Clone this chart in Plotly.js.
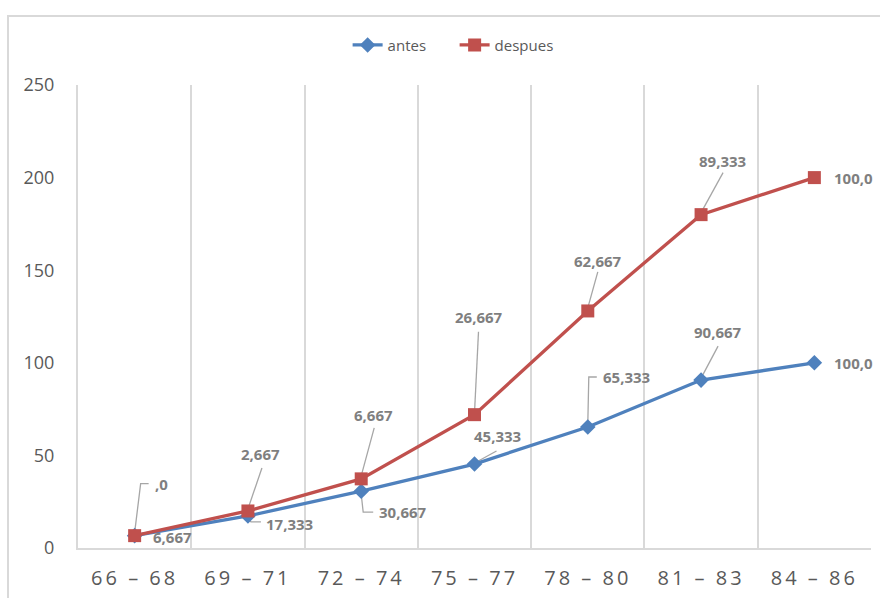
<!DOCTYPE html>
<html>
<head>
<meta charset="utf-8">
<script src="https://cdn.plot.ly/plotly-3.0.1.min.js"></script>
<style>
  html, body { margin: 0; padding: 0; background: #ffffff; overflow: hidden; }
  #frame { position: absolute; left: 7px; top: 15px; width: 900px; height: 620px;
           border: 2px solid #d9d9d9; box-sizing: border-box; }
  #chart { position: absolute; left: 0; top: 0; width: 880px; height: 598px; }
  #chart .xtick text { letter-spacing: 3px; }
</style>
</head>
<body>
<div id="frame"></div>
<div id="chart"></div>
<script>
// ---- data ----
const categories = ["66 – 68", "69 – 71", "72 – 74", "75 – 77", "78 – 80", "81 – 83", "84 – 86"];
const antes = [6.667, 17.333, 30.667, 45.333, 65.333, 90.667, 100.0];
const despues = [0.0, 2.667, 6.667, 26.667, 62.667, 89.333, 100.0];
const antesLabels = ["6,667", "17,333", "30,667", "45,333", "65,333", "90,667", "100,0"];
const despuesLabels = [",0", "2,667", "6,667", "26,667", "62,667", "89,333", "100,0"];

// stacked line chart: despues is drawn on top of antes
const despuesStacked = despues.map((v, i) => v + antes[i]);

// ---- label placement (pixels, y up) and leader lines ----
const antesOffsets = [[38, -1], [42, -8], [42, -21], [23, 28], [39, 50], [17, 48], [39, 0]];
const antesLeaders = [null, "M 0 -2 L 3 -6 L 13 -6", "M 0 -3 L 2 -21 L 12 -21", "M 2 2 L 22 13",
                      "M 0 3 L 1 50 L 9 50", "M 0 2 L 17 34", null];
const despuesOffsets = [[27, 52], [13, 57], [12, 64], [4, 98], [10, 50], [21, 54], [39, 0]];
const despuesLeaders = ["M 0 3 L 6 52 L 14 52", "M 0 2 L 14 43", "M 0 3 L 13 51", "M 0 2 L 4 83",
                        "M 0 3 L 10 39", "M 0 2 L 22 42", null];

const blue = "#4f81bd", red = "#c0504d";
const labelFont = { family: "Open Sans, sans-serif", size: 15, color: "#7f7f7f", weight: 700 };

const traces = [
  { type: "scatter", mode: "lines+markers", name: "antes", x: categories, y: antes,
    line: { color: blue, width: 3.3 },
    marker: { symbol: "diamond", size: 12, color: blue } },
  { type: "scatter", mode: "lines+markers", name: "despues", x: categories, y: despuesStacked,
    line: { color: red, width: 3.3 },
    marker: { symbol: "square", size: 13, color: red } }
];

const annotations = [];
const shapes = [];
function addLabels(yVals, labels, offsets, leaders) {
  yVals.forEach((v, i) => {
    annotations.push({ x: i, y: v, xref: "x", yref: "y", text: labels[i], showarrow: false,
      xshift: offsets[i][0], yshift: offsets[i][1], font: labelFont });
    if (leaders[i]) {
      shapes.push({ type: "path", xref: "x", yref: "y", xsizemode: "pixel", ysizemode: "pixel",
        xanchor: i, yanchor: v, path: leaders[i], layer: "below",
        line: { color: "#a6a6a6", width: 1.3 } });
    }
  });
}
addLabels(antes, antesLabels, antesOffsets, antesLeaders);
addLabels(despuesStacked, despuesLabels, despuesOffsets, despuesLeaders);

const layout = {
  width: 880, height: 598,
  margin: { l: 78, r: 9, t: 85, b: 50, pad: 0, autoexpand: false },
  paper_bgcolor: "rgba(0,0,0,0)", plot_bgcolor: "rgba(0,0,0,0)",
  font: { family: "Open Sans, sans-serif", color: "#595959" },
  showlegend: true,
  legend: { orientation: "h", x: 0.34, xanchor: "left", y: 1.086, yanchor: "middle",
            font: { size: 15, color: "#595959" }, itemwidth: 30, tracegroupgap: 0, entrywidth: 62 },
  xaxis: { type: "category", range: [-0.5, categories.length - 0.5], tickson: "boundaries",
           showgrid: true, gridcolor: "#d9d9d9", gridwidth: 2,
           showline: true, linecolor: "#d9d9d9", linewidth: 2, ticks: "", zeroline: false,
           automargin: false, tickfont: { size: 20, color: "#595959" }, ticklabelstandoff: 11 },
  yaxis: { range: [0, 250], dtick: 50, showgrid: false, zeroline: false, automargin: false,
           showline: true, linecolor: "#d9d9d9", linewidth: 2, ticks: "",
           tickfont: { size: 18, color: "#595959" }, ticklabelstandoff: 18 },
  annotations: annotations,
  shapes: shapes
};

Plotly.newPlot("chart", traces, layout, { displayModeBar: false, staticPlot: true });
</script>
</body>
</html>
